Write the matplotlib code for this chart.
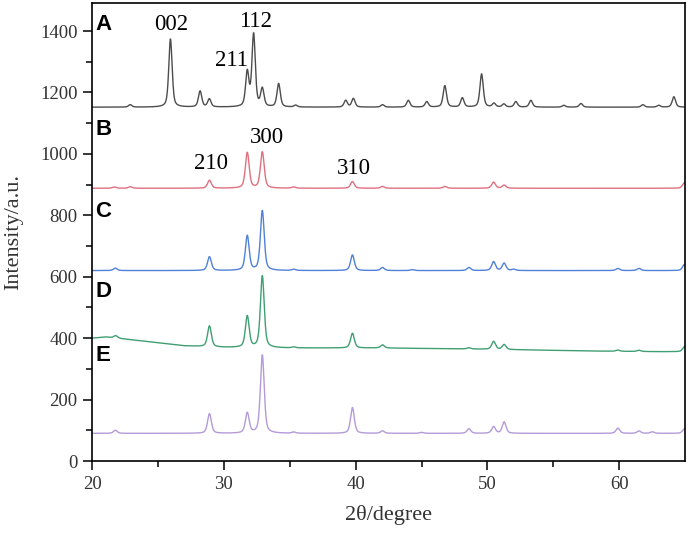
import numpy as np
import matplotlib.pyplot as plt

# 2theta positions and peak heights (above baseline)
a_pos = [22.9, 25.95, 28.2, 28.9, 31.78, 32.26, 32.92, 34.16, 35.45, 39.25, 39.83, 42.04,
         44.0, 45.4, 46.77, 48.1, 49.56, 50.5, 51.25, 52.16, 53.3, 55.8, 57.1, 61.8, 63.0, 64.15]
a_height = [8, 222, 52, 26, 112, 236, 58, 76, 6, 22, 28, 8,
            22, 18, 70, 30, 108, 12, 10, 18, 22, 6, 12, 8, 6, 34]
a_base = 1152

b_pos = [21.7, 22.9, 28.91, 31.78, 32.92, 35.3, 39.76, 42.04, 46.77, 50.47, 51.27, 64.95]
b_height = [4, 5, 26, 116, 118, 4, 22, 6, 6, 20, 10, 18]
b_base = 888

c_pos = [21.77, 28.91, 31.78, 32.92, 35.3, 39.76, 42.04, 44.3, 48.6, 50.47, 51.27, 52.0,
         59.9, 61.5, 64.95]
c_height = [8, 45, 113, 195, 4, 51, 10, 3, 10, 29, 24, 4, 7, 7, 20]
c_base = 620

d_pos = [21.8, 28.91, 31.78, 32.92, 35.3, 39.76, 42.04, 48.6, 50.47, 51.27, 59.9, 61.5, 64.95]
d_height = [8, 68, 102, 234, 3, 48, 10, 4, 26, 16, 4, 4, 16]
# sloping background of trace D
d_base_x = [20.0, 21.0, 22.5, 25.0, 27.0, 30.0, 35.0, 42.0, 50.0, 58.0, 63.0, 65.0]
d_base_y = [400, 404, 397, 385, 375, 370, 368, 368, 364, 358, 356, 356]

e_pos = [21.77, 28.91, 31.78, 32.92, 35.3, 39.76, 42.04, 45.0, 48.6, 50.47, 51.27, 59.9,
         61.5, 62.5, 64.95]
e_height = [10, 64, 66, 255, 4, 84, 8, 3, 15, 22, 37, 17, 8, 5, 15]
e_base = 90

peak_labels = ['002', '211', '112', '210', '300', '310']
label_x = [26.0, 30.6, 32.4, 29.0, 33.3, 39.9]
label_y = [1420, 1303, 1431, 970, 1054, 953]

panel_names = ['A', 'B', 'C', 'D', 'E']
panel_y = [1420, 1078, 812, 551, 345]

colors = ['#4d4d4d', '#e0707f', '#5080d8', '#3f9f73', '#b49ad8']

two_theta = np.linspace(20, 65, 2400)


def profile(pos, height, fwhm=0.34, eta=0.5):
    y = np.zeros_like(two_theta)
    for p, h in zip(pos, height):
        dx = (two_theta - p) / (fwhm / 2)
        y += h * (eta / (1 + dx ** 2) + (1 - eta) * np.exp(-np.log(2) * dx ** 2))
    return y


traces = [
    a_base + profile(a_pos, a_height, 0.3),
    b_base + profile(b_pos, b_height),
    c_base + profile(c_pos, c_height),
    np.interp(two_theta, d_base_x, d_base_y) + profile(d_pos, d_height),
    e_base + profile(e_pos, e_height),
]

fig = plt.figure(figsize=(6.92, 5.34), dpi=100)
ax = fig.add_axes([0.133, 0.1367, 0.857, 0.857])

for y, c in zip(traces, colors):
    ax.plot(two_theta, y, color=c, lw=1.0)

serif = 'Liberation Serif'
for t, x, y in zip(peak_labels, label_x, label_y):
    ax.text(x, y, t, ha='center', va='center', fontsize=16.5, family=serif)
for t, y in zip(panel_names, panel_y):
    ax.text(20.25, y, t, ha='left', va='center', fontsize=16, fontweight='bold',
            family='Liberation Sans')

ax.set_xlim(20, 65)
ax.set_ylim(0, 1490)
ax.set_xticks(np.arange(20, 61, 10))
ax.set_xticks(np.arange(25, 65, 10), minor=True)
ax.set_yticks(np.arange(0, 1401, 200))
ax.set_yticks(np.arange(100, 1500, 200), minor=True)
ax.tick_params(which='major', direction='out', length=6.5, width=1.1, labelsize=13.5,
               labelcolor='#333333', pad=4)
ax.tick_params(which='minor', direction='out', length=4, width=1.1)
for lab in ax.get_xticklabels() + ax.get_yticklabels():
    lab.set_family(serif)
for s in ax.spines.values():
    s.set_linewidth(1.2)

ax.set_xlabel('2θ/degree', fontsize=16, family=serif, labelpad=9, color='#333333')
ax.set_ylabel('Intensity/a.u.', fontsize=16, family=serif, labelpad=12, color='#333333')

fig.savefig('out.png', dpi=100)
